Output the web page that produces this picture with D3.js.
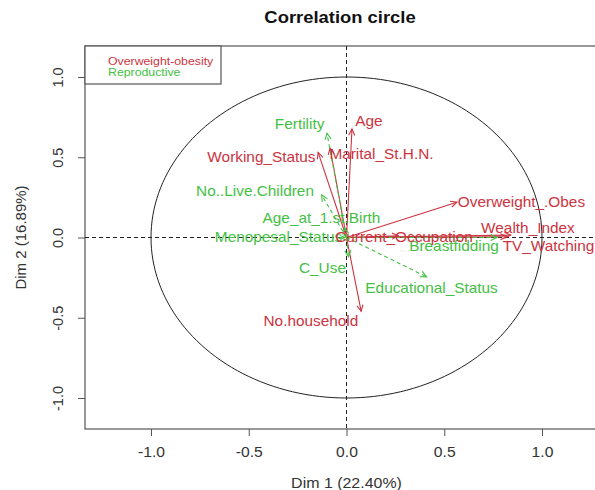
<!DOCTYPE html>
<html><head><meta charset="utf-8">
<script src="https://cdn.jsdelivr.net/npm/d3@7"></script>
<style>body{margin:0;background:#fff;} svg{display:block;font-family:"Liberation Sans",Arial,sans-serif;}</style>
</head><body>
<svg id="chart" width="595" height="490"></svg>
<script>
// ---- data ----
const variables = ["Age","Marital_St.H.N.","Working_Status","Overweight_.Obes","Current_Occupation","Wealth_Index","TV_Watching","No.household",
  "Fertility","No..Live.Children","Age_at_1.st.Birth","Menopesal_Status","Breastfidding","C_Use","Educational_Status"];
const groups = ["Overweight-obesity","Overweight-obesity","Overweight-obesity","Overweight-obesity","Overweight-obesity","Overweight-obesity","Overweight-obesity","Overweight-obesity",
  "Reproductive","Reproductive","Reproductive","Reproductive","Reproductive","Reproductive","Reproductive"];
const dim1 = [0.028,-0.084,-0.145,0.565,0.265,0.84,0.82,0.075, -0.10,-0.127,-0.01,-0.03,0.77,0.01,0.41];
const dim2 = [0.676,0.557,0.53,0.22,0.01,0.015,0.005,-0.46, 0.65,0.265,0.06,0.0,0.0,-0.12,-0.245];
// label centres (in Dim units), as placed by the original plot
const labelDim1 = [0.115,0.179,-0.435,0.895,0.294,0.928,1.033,-0.182, -0.240,-0.468,-0.128,-0.348,0.550,-0.123,0.435];
const labelDim2 = [0.726,0.520,0.502,0.221,0.003,0.059,-0.053,-0.520, 0.707,0.290,0.121,0.003,-0.053,-0.190,-0.315];
const legendLabels = ["Overweight-obesity","Reproductive"];
const xTicks = [-1.0,-0.5,0.0,0.5,1.0];
const yTicks = [-1.0,-0.5,0.0,0.5,1.0];
const title = "Correlation circle";
const xTitle = "Dim 1 (22.40%)";
const yTitle = "Dim 2 (16.89%)";

// ---- drawing ----
const svg = d3.select("#chart");
const colors = d3.scaleOrdinal().domain(legendLabels).range(["#cc3340","#44c044"]);
const x = d3.scaleLinear().domain([-1,1]).range([151,542]);
const y = d3.scaleLinear().domain([-1,1]).range([398,77]);
const box = {left:85, right:610, top:46, bottom:429};

function stext(parent, cx, cy, str, size, sx, opts={}){
  const t = parent.append("text")
    .attr("transform",`translate(${cx},${cy}) scale(${sx},1)`)
    .attr("text-anchor",opts.anchor||"middle").attr("dy","0.35em")
    .attr("font-size",size).attr("fill",opts.fill||"#333")
    .text(str);
  if(opts.bold) t.attr("font-weight","bold");
  return t;
}

// title
stext(svg, 340, 17, title, 16, 1.15, {bold:true, fill:"#111"});

// axes
const xAxis = svg.append("g").attr("transform",`translate(0,${box.bottom})`)
  .call(d3.axisBottom(x).tickValues(xTicks).tickFormat(d=>d.toFixed(1)).tickSize(7));
xAxis.select(".domain").remove();
xAxis.selectAll("line").attr("stroke","#555");
xAxis.selectAll("text").remove();
xAxis.selectAll(".tick").each(function(d){ stext(d3.select(this), 0, 23, d.toFixed(1), 14.5, 1.08); });

const yAxis = svg.append("g").attr("transform",`translate(${box.left},0)`)
  .call(d3.axisLeft(y).tickValues(yTicks).tickFormat(d=>d.toFixed(1)).tickSize(7));
yAxis.select(".domain").remove();
yAxis.selectAll("line").attr("stroke","#555");
yAxis.selectAll("text").remove();
yAxis.selectAll(".tick").append("text")
  .attr("transform","translate(-27,0) rotate(-90)")
  .attr("text-anchor","middle").attr("dy","0.35em")
  .attr("font-size",14.5).attr("fill","#333").text(d=>d.toFixed(1));

// box
svg.append("rect").attr("x",box.left).attr("y",box.top)
  .attr("width",box.right-box.left).attr("height",box.bottom-box.top)
  .attr("fill","none").attr("stroke","#555").attr("stroke-width",1.2);

// axis titles
stext(svg, x(0), 483, xTitle, 14.5, 1.1);
svg.append("text").attr("transform",`translate(21,${y(0)}) rotate(-90)`).attr("text-anchor","middle")
  .attr("dy","0.35em").attr("font-size",15).attr("fill","#333").text(yTitle);

// reference lines
svg.append("line").attr("x1",x(0)).attr("x2",x(0)).attr("y1",box.top).attr("y2",box.bottom)
  .attr("stroke","#222").attr("stroke-dasharray","4,3");
svg.append("line").attr("x1",box.left).attr("x2",box.right).attr("y1",y(0)).attr("y2",y(0))
  .attr("stroke","#222").attr("stroke-dasharray","4,3");

// unit circle
const circ = d3.range(0,361,2).map(a=>[Math.cos(a*Math.PI/180),Math.sin(a*Math.PI/180)]);
svg.append("path").attr("d",d3.line().x(d=>x(d[0])).y(d=>y(d[1]))(circ))
  .attr("fill","none").attr("stroke","#222").attr("stroke-width",1);

// arrows
const headLen = 7, headAng = Math.PI/7;
variables.forEach((v,i)=>{
  const col = colors(groups[i]);
  const dashed = groups[i]==="Reproductive";
  const x0=x(0), y0=y(0), x1=x(dim1[i]), y1=y(dim2[i]);
  const g = svg.append("g");
  g.append("line").attr("x1",x0).attr("y1",y0).attr("x2",x1).attr("y2",y1)
    .attr("stroke",col).attr("stroke-width",1.1).attr("stroke-dasharray",dashed?"4,3":null);
  const ang = Math.atan2(y1-y0,x1-x0);
  const p1=[x1-headLen*Math.cos(ang-headAng), y1-headLen*Math.sin(ang-headAng)];
  const p2=[x1-headLen*Math.cos(ang+headAng), y1-headLen*Math.sin(ang+headAng)];
  g.append("path").attr("d",`M${p1[0]},${p1[1]}L${x1},${y1}L${p2[0]},${p2[1]}`)
    .attr("fill","none").attr("stroke",col).attr("stroke-width",1.1);
});
// labels (reproductive first, so overweight labels sit on top as in the original)
const order = d3.range(variables.length).sort((a,b)=>(groups[a]==="Reproductive"?0:1)-(groups[b]==="Reproductive"?0:1));
order.forEach(i=>{
  stext(svg, x(labelDim1[i]), y(labelDim2[i]), variables[i], 14.5, 1.06, {fill:colors(groups[i])});
});

// legend
svg.append("rect").attr("x",box.left).attr("y",box.top).attr("width",136).attr("height",38)
  .attr("fill","#fff").attr("stroke","#555").attr("stroke-width",1.2);
legendLabels.forEach((l,i)=>{
  stext(svg, 108, 61+i*11, l, 11, 1.12, {anchor:"start", fill:colors(l)});
});
</script>
</body></html>
